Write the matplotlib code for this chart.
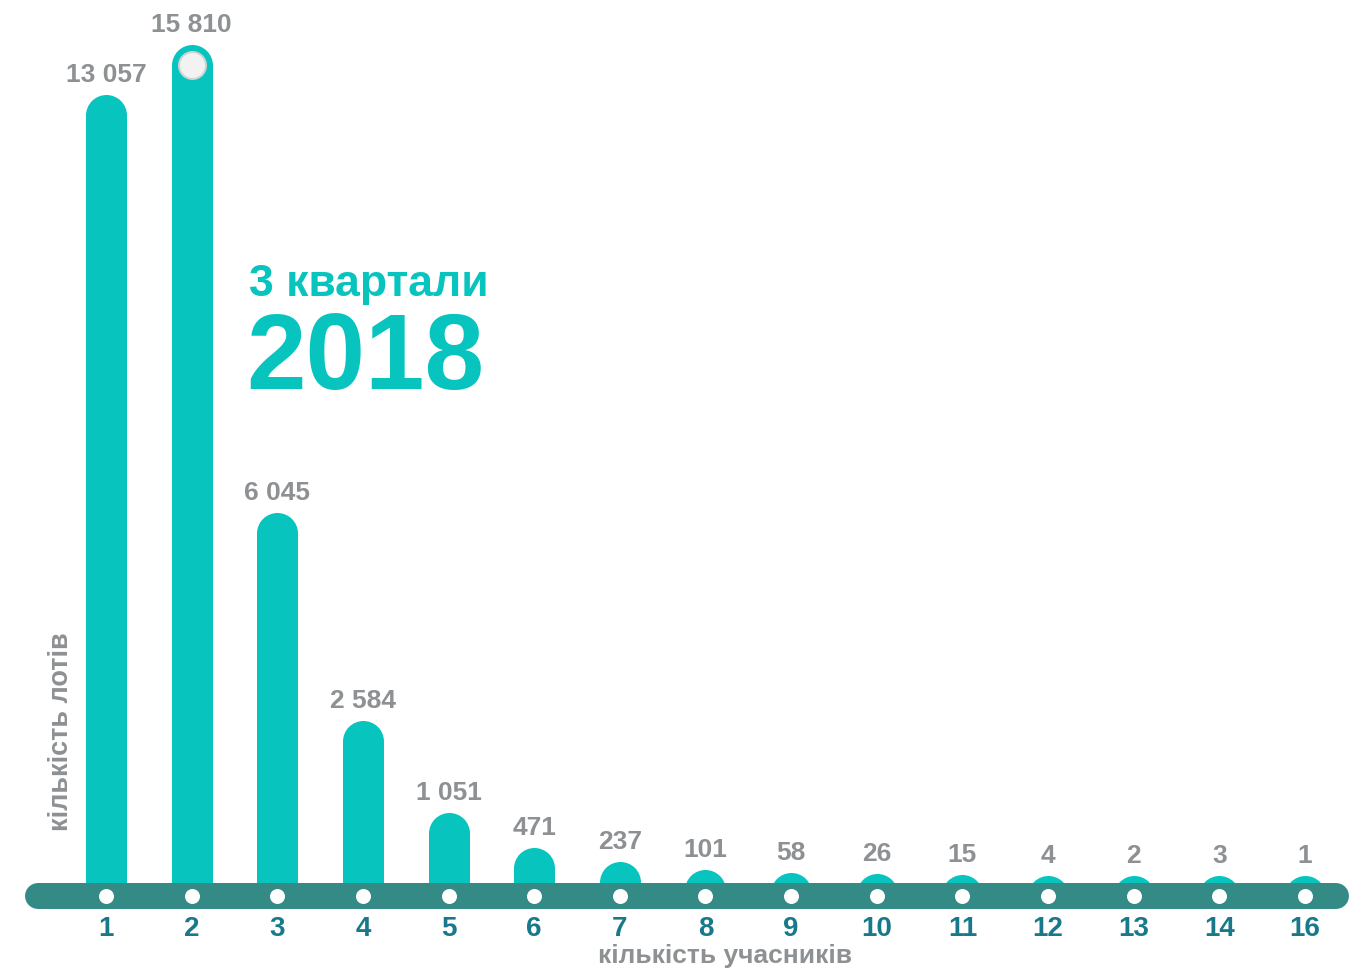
import matplotlib
matplotlib.use("Agg")
import matplotlib.pyplot as plt
from matplotlib.patches import Rectangle
import numpy as np

plt.rcParams["font.family"] = ["Liberation Sans", "DejaVu Sans"]
plt.rcParams["font.weight"] = "bold"

participants = ["1", "2", "3", "4", "5", "6", "7", "8", "9", "10",
                "11", "12", "13", "14", "16"]
lots = [13057, 15810, 6045, 2584, 1051, 471, 237, 101, 58, 26, 15, 4, 2, 3, 1]

TEAL = "#07c4be"
RAIL = "#348a85"
GREY = "#8d9193"
DARK = "#17798a"

DPI = 100
W, H = 1370, 971

# axis is linear up to BREAK, then compressed so the tallest bar fits
BREAK, SQUEEZE = 13000, 0.30


def fwd(v):
    v = np.asarray(v, dtype=float)
    return np.where(v <= BREAK, v, BREAK + (v - BREAK) * SQUEEZE)


def inv(v):
    v = np.asarray(v, dtype=float)
    return np.where(v <= BREAK, v, BREAK + (v - BREAK) / SQUEEZE)


def px(n):
    return n * 72 / DPI


fig = plt.figure(figsize=(W / DPI, H / DPI), dpi=DPI)
ax = fig.add_axes([0, 0, 1, 1])
ax.set_yscale("function", functions=(fwd, inv))

step = 85.64      # pixels between categories
x0 = 106          # pixel of the first category
y0 = 896          # pixel row of the zero line
ppu = 0.060       # pixels per lot (linear part)
ax.set_xlim(-x0 / step, (W - x0) / step)
ax.set_ylim(-(H - y0) / ppu, float(inv(y0 / ppu)))
ax.set_axis_off()

x = np.arange(len(participants))
bar_w = 41

# rounded bars: butt-capped stems plus a round head at the value,
# everything cut off below the zero line
above_zero = Rectangle((-5, 0), 30, 1e6, transform=ax.transData)
for xi, v in zip(x, lots):
    ln, = ax.plot([xi, xi], [0, v], color=TEAL, lw=px(bar_w),
                  solid_capstyle="butt", zorder=2)
    ln.set_clip_path(above_zero)
heads = ax.scatter(x, lots, s=px(bar_w) ** 2, color=TEAL, zorder=2,
                   linewidths=0)
heads.set_clip_path(above_zero)

# rail along the bottom with a dot for each category
ax.plot([x[0] - 0.79, x[-1] + 0.36], [0, 0], color=RAIL, lw=px(26),
        solid_capstyle="round", zorder=3)
ax.scatter(x, np.zeros(len(x)), s=px(15) ** 2, color="white", zorder=4,
           linewidths=0)

# knob on top of the tallest bar
top = int(np.argmax(lots))
ax.scatter([x[top]], [lots[top]], s=px(29) ** 2, color="#d2d2d2", zorder=4,
           linewidths=0)
ax.scatter([x[top]], [lots[top]], s=px(25) ** 2, color="#f2f2f2", zorder=5,
           linewidths=0)

for xi, v in zip(x, lots):
    ax.annotate(f"{v:,}".replace(",", " "), (xi, v), xytext=(0, px(33)),
                textcoords="offset points", ha="center", va="baseline",
                fontsize=19, color=GREY, fontweight="bold")

for xi, lab in zip(x, participants):
    ax.annotate(lab, (xi, 0), xytext=(0, -px(40)), textcoords="offset points",
                ha="center", va="baseline", fontsize=20, color=DARK,
                fontweight="bold")

fig.text(725 / W, 1 - 963 / H, "кількість учасників", ha="center",
         va="baseline", fontsize=19, color=GREY, fontweight="bold")
fig.text(61 / W, 1 - 732 / H, "кількість лотів", ha="center", va="center",
         rotation=90, fontsize=19.5, color=GREY, fontweight="bold")

fig.text(249 / W, 1 - 296 / H, "3 квартали", ha="left", va="baseline",
         fontsize=32, color=TEAL, fontweight="bold")
fig.text(246 / W, 1 - 389 / H, "2018", ha="left", va="baseline",
         fontsize=77, color=TEAL, fontweight="bold")

fig.savefig("out.png", dpi=DPI, facecolor="white")
